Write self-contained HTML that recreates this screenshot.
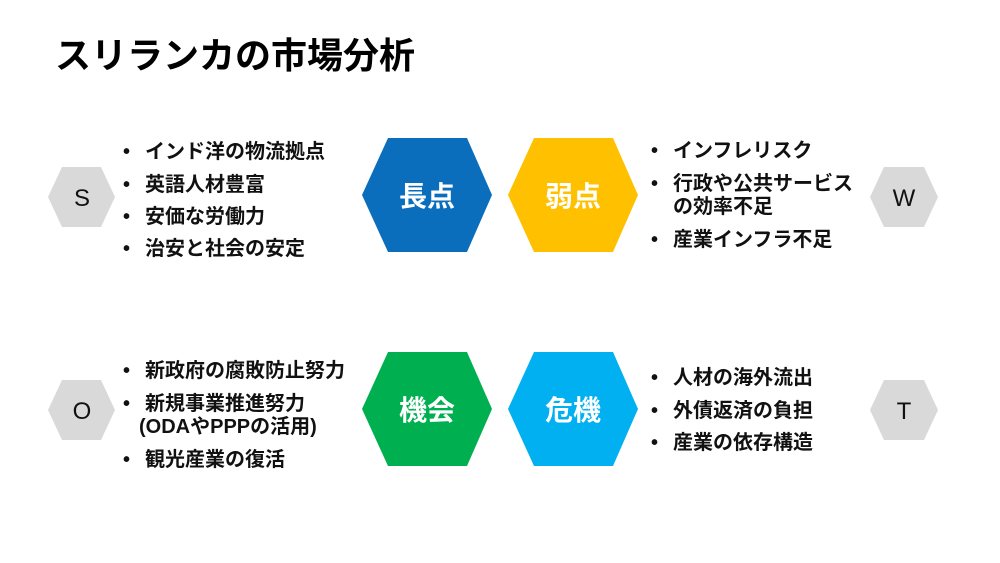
<!DOCTYPE html>
<html><head><meta charset="utf-8"><style>
html,body{margin:0;padding:0;background:#fff;}
body{width:1000px;height:563px;position:relative;overflow:hidden;font-family:"Liberation Sans","Noto Sans CJK JP",sans-serif;}
.t{position:absolute;font-weight:bold;font-size:20px;color:#111;line-height:23px;white-space:nowrap;}
.t i{font-style:normal;position:absolute;left:-22px;top:0;}
</style></head><body>
<svg width="1000" height="563" style="position:absolute;left:0;top:0">
<g font-family="Liberation Sans, Noto Sans CJK JP, sans-serif" font-weight="bold" text-anchor="middle">
<text x="55" y="68" text-anchor="start" font-size="36" fill="#000">スリランカの市場分析</text>
<polygon points="362,195 388,138 467,138 492,195 467,252 388,252" fill="#0A6EBD"/>
<polygon points="508,195 534,138 613,138 638,195 613,252 534,252" fill="#FFC000"/>
<polygon points="362,409 388,352 467,352 492,409 467,466 388,466" fill="#00B050"/>
<polygon points="508,409 534,352 613,352 638,409 613,466 534,466" fill="#00B0F0"/>
<polygon points="48,197 62,167 101,167 115,197 101,227 62,227" fill="#D9D9D9"/>
<polygon points="870,197 884,167 924,167 938,197 924,227 884,227" fill="#D9D9D9"/>
<polygon points="48,410 62,380 101,380 115,410 101,440 62,440" fill="#D9D9D9"/>
<polygon points="870,410 884,380 924,380 938,410 924,440 884,440" fill="#D9D9D9"/>
<g font-size="28" fill="#fff"><text x="427" y="206">長点</text><text x="573" y="206">弱点</text><text x="427" y="420">機会</text><text x="573" y="420">危機</text></g>
<g font-size="24" fill="#111" font-weight="normal"><text x="82" y="206">S</text><text x="904" y="206">W</text><text x="82" y="419">O</text><text x="904" y="419">T</text></g>
</g></svg>
<div class="t" style="left:145px;top:141px"><i>•</i>インド洋の物流拠点</div>
<div class="t" style="left:145px;top:174px"><i>•</i>英語人材豊富</div>
<div class="t" style="left:145px;top:206px"><i>•</i>安価な労働力</div>
<div class="t" style="left:145px;top:238px"><i>•</i>治安と社会の安定</div>
<div class="t" style="left:673px;top:140px"><i>•</i>インフレリスク</div>
<div class="t" style="left:673px;top:173px"><i>•</i>行政や公共サービス</div>
<div class="t" style="left:673px;top:196px">の効率不足</div>
<div class="t" style="left:673px;top:229px"><i>•</i>産業インフラ不足</div>
<div class="t" style="left:145px;top:360px"><i>•</i>新政府の腐敗防止努力</div>
<div class="t" style="left:145px;top:393px"><i>•</i>新規事業推進努力</div>
<div class="t" style="left:139px;top:416px">(ODAやPPPの活用)</div>
<div class="t" style="left:145px;top:449px"><i>•</i>観光産業の復活</div>
<div class="t" style="left:673px;top:367px"><i>•</i>人材の海外流出</div>
<div class="t" style="left:673px;top:400px"><i>•</i>外債返済の負担</div>
<div class="t" style="left:673px;top:432px"><i>•</i>産業の依存構造</div>
</body></html>
